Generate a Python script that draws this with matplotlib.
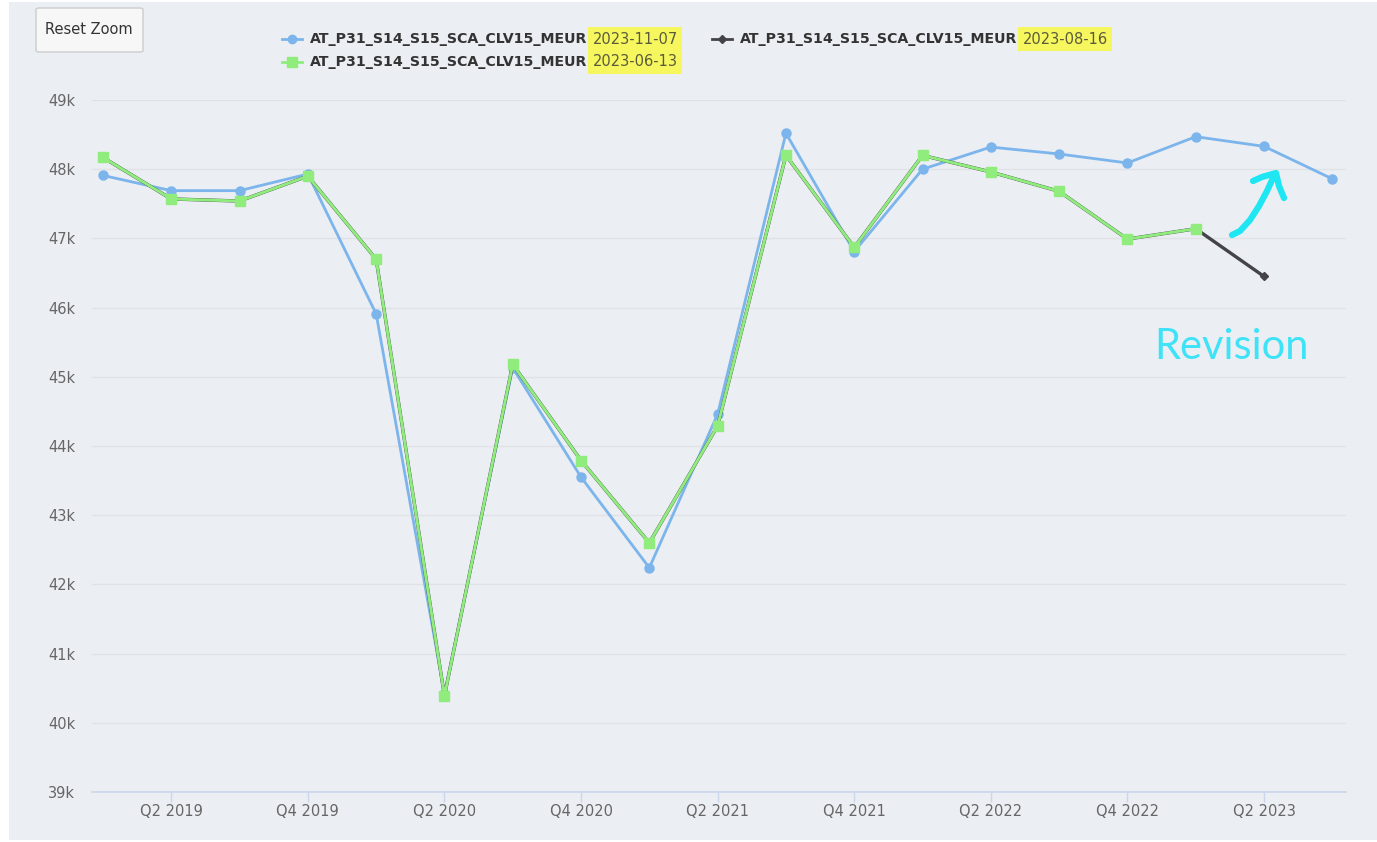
import matplotlib
matplotlib.use("Agg")
import matplotlib.pyplot as plt
from matplotlib.patches import FancyBboxPatch, Rectangle
from matplotlib.lines import Line2D
import numpy as np

# ---------------- data ----------------
quarters = ["Q1 2019", "Q2 2019", "Q3 2019", "Q4 2019",
            "Q1 2020", "Q2 2020", "Q3 2020", "Q4 2020",
            "Q1 2021", "Q2 2021", "Q3 2021", "Q4 2021",
            "Q1 2022", "Q2 2022", "Q3 2022", "Q4 2022",
            "Q1 2023", "Q2 2023", "Q3 2023"]

# vintage 2023-11-07 (k EUR)
v_2023_11_07 = [47.91, 47.69, 47.69, 47.93, 45.91, 40.42, 45.13, 43.55, 42.24,
                44.46, 48.52, 46.81, 48.00, 48.32, 48.22, 48.09, 48.47, 48.33, 47.86]
# vintage 2023-08-16
v_2023_08_16 = [48.17, 47.57, 47.54, 47.90, 46.70, 40.39, 45.18, 43.79, 42.60,
                44.29, 48.20, 46.87, 48.20, 47.96, 47.68, 46.99, 47.14, 46.45]
# vintage 2023-06-13
v_2023_06_13 = [48.17, 47.57, 47.54, 47.90, 46.70, 40.39, 45.18, 43.79, 42.60,
                44.29, 48.20, 46.87, 48.20, 47.96, 47.68, 46.99, 47.14]

series_name = "AT_P31_S14_S15_SCA_CLV15_MEUR"
vintages = ["2023-11-07", "2023-08-16", "2023-06-13"]
y_ticks = [39, 40, 41, 42, 43, 44, 45, 46, 47, 48, 49]
y_tick_labels = [f"{t}k" for t in y_ticks]
x_tick_idx = [1, 3, 5, 7, 9, 11, 13, 15, 17]

# ---------------- style ----------------
W, H = 1377, 842
BG = "#ebeef3"
BLUE = "#7cb5ec"
BLACK = "#434348"
GREEN = "#90ed7d"
CYAN = "#1ee6f2"
FONT = ["DejaVu Sans"]
plt.rcParams["font.family"] = FONT

fig = plt.figure(figsize=(W / 100, H / 100), dpi=100)
fig.patch.set_facecolor("white")


def fx(x):
    return x / W


def fy(y):
    return 1 - y / H


# panel background
fig.patches.append(Rectangle((fx(9), fy(840)), fx(1377 - 9), (840 - 2) / H,
                             transform=fig.transFigure, facecolor=BG,
                             edgecolor="none", zorder=-10))

ax = fig.add_axes([fx(92), fy(792), fx(1346 - 92), (792 - 100) / H])
ax.set_zorder(1)
ax.set_facecolor(BG)
x = np.arange(len(quarters))

ax.plot(x[:len(v_2023_11_07)], v_2023_11_07, color=BLUE, lw=2, marker="o",
        ms=6.5, zorder=3, solid_joinstyle="round")
ax.plot(x[:len(v_2023_08_16)], v_2023_08_16, color=BLACK, lw=2.4, marker="D",
        ms=4.5, zorder=4, solid_joinstyle="round")
ax.plot(x[:len(v_2023_06_13)], v_2023_06_13, color=GREEN, lw=2.1, marker="s",
        ms=7.5, zorder=5, solid_joinstyle="round")

ax.set_xlim(-0.16, 18.2)
ax.set_ylim(39, 49)
ax.set_yticks(y_ticks)
ax.set_yticklabels(y_tick_labels)
ax.set_xticks(x_tick_idx)
ax.set_xticklabels([quarters[i] for i in x_tick_idx])
ax.grid(axis="y", color="#e0e2e6", lw=1)
ax.set_axisbelow(True)
for s in ["top", "right", "left"]:
    ax.spines[s].set_visible(False)
ax.spines["bottom"].set_color("#ccd6eb")
ax.spines["bottom"].set_linewidth(1.2)
ax.tick_params(axis="y", length=0, pad=12, labelsize=10.5, labelcolor="#666666")
ax.tick_params(axis="x", length=7, width=1, color="#ccd6eb", pad=1.5,
               labelsize=10.5, labelcolor="#666666")

# ---------------- reset zoom button ----------------
fig.patches.append(FancyBboxPatch((fx(36), fy(52)), fx(143 - 36), (52 - 8) / H,
                                  boxstyle="round,pad=0,rounding_size=0.002",
                                  transform=fig.transFigure, facecolor="#f7f7f7",
                                  edgecolor="#cccccc", lw=1, zorder=2))
fig.text(fx(89), fy(29), "Reset Zoom", ha="center", va="center",
         fontsize=10.5, color="#333333", zorder=3)

# ---------------- legend ----------------
legend_items = [
    (282, 39, BLUE, "o", 6, vintages[0]),
    (712, 39, BLACK, "D", 4, vintages[1]),
    (282, 62, GREEN, "s", 7, vintages[2]),
]
for (lx, ly, col, mk, ms, date) in legend_items:
    fig.lines.append(Line2D([fx(lx), fx(lx + 20)], [fy(ly), fy(ly)],
                            transform=fig.transFigure, color=col, lw=2,
                            marker=None))
    fig.lines.append(Line2D([fx(lx + 10)], [fy(ly)], transform=fig.transFigure,
                            color=col, marker=mk, ms=ms, lw=0))
    t = fig.text(fx(lx + 28), fy(ly), series_name, ha="left", va="center",
                 fontsize=10.2, fontweight="bold", color="#333333")
    fig.canvas.draw()
    bb = t.get_window_extent()
    x_end = bb.x1
    fig.text((x_end + 5) / W, fy(ly), date, ha="left", va="center",
             fontsize=10.5, color="#5b5b3c",
             bbox=dict(boxstyle="square,pad=0.3", facecolor="#f6f65e",
                       edgecolor="none"))

# ---------------- annotation ----------------
arrow_x = [1232, 1240, 1250, 1259, 1267, 1273]
arrow_y = [235, 231, 220, 206, 191, 178]
fig.lines.append(Line2D([fx(v) for v in arrow_x], [fy(v) for v in arrow_y],
                        transform=fig.transFigure, color=CYAN, lw=4.5,
                        solid_capstyle="round", solid_joinstyle="round"))
head_x = [1253, 1262, 1276, 1279, 1284]
head_y = [181, 177, 173, 186, 198]
fig.lines.append(Line2D([fx(v) for v in head_x], [fy(v) for v in head_y],
                        transform=fig.transFigure, color=CYAN, lw=4.5,
                        solid_capstyle="round", solid_joinstyle="round"))
fig.text(fx(1232), fy(347), "Revision", ha="center", va="center",
         fontsize=30, color="#3fe3f7", family=["Lato", "DejaVu Sans"])

fig.savefig("out.png", dpi=100, facecolor=fig.get_facecolor())
